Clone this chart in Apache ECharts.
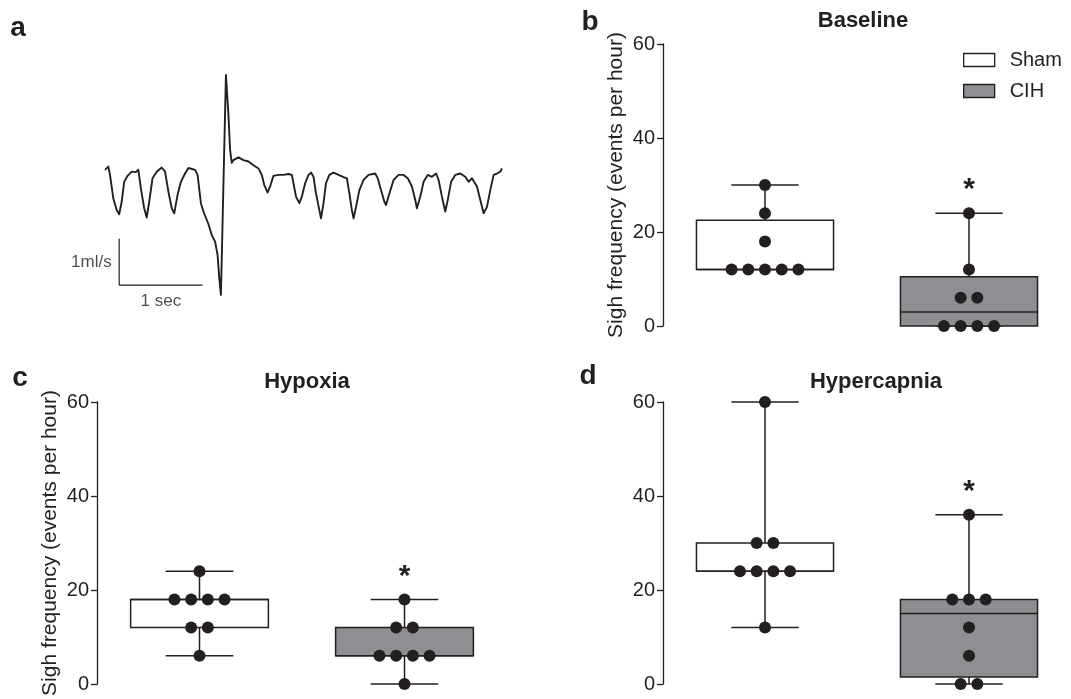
<!DOCTYPE html>
<html>
<head>
<meta charset="utf-8">
<script src="https://cdn.jsdelivr.net/npm/echarts@6/dist/echarts.min.js"></script>
<style>
html,body{margin:0;padding:0;background:#fff;}
#chart{width:1071px;height:699px;}
</style>
</head>
<body>
<div id="chart"></div>
<script>
// ---------- Data ----------
// Panel a: airflow trace (time in s, flow in ml/s)
const traceTime = [0.00,0.04,0.06,0.10,0.14,0.17,0.20,0.23,0.27,0.32,
  0.37,0.40,0.43,0.47,0.50,0.53,0.57,0.62,0.68,0.72,
  0.76,0.80,0.83,0.87,0.91,0.96,1.00,1.08,1.11,1.15,
  1.18,1.24,1.28,1.32,1.35,1.37,1.39,1.45,1.48,1.50,
  1.52,1.54,1.60,1.66,1.72,1.78,1.84,1.88,1.91,1.95,
  1.98,2.02,2.08,2.14,2.20,2.24,2.26,2.29,2.33,2.36,
  2.40,2.44,2.47,2.50,2.53,2.57,2.59,2.62,2.65,2.69,
  2.74,2.80,2.86,2.90,2.93,2.96,2.98,3.01,3.05,3.10,
  3.16,3.24,3.27,3.31,3.35,3.37,3.41,3.46,3.52,3.58,
  3.63,3.68,3.72,3.74,3.78,3.82,3.87,3.92,3.97,4.00,
  4.04,4.08,4.11,4.15,4.20,4.26,4.32,4.36,4.40,4.46,
  4.50,4.54,4.58,4.62,4.66,4.70,4.74,4.76];
const traceFlow = [0.22,0.29,0.11,-0.40,-0.65,-0.74,-0.47,-0.04,0.09,0.18,
  0.17,0.22,-0.18,-0.61,-0.81,-0.47,0.04,0.18,0.27,0.18,
  -0.25,-0.61,-0.72,-0.32,-0.04,0.14,0.26,0.22,0.11,-0.50,
  -0.68,-0.95,-1.19,-1.33,-1.62,-2.12,-2.48,2.27,1.40,0.65,
  0.37,0.43,0.49,0.43,0.40,0.32,0.25,0.11,-0.11,-0.27,
  -0.14,0.09,0.11,0.11,0.13,0.11,-0.07,-0.36,-0.50,-0.36,
  -0.07,0.11,0.16,0.07,-0.29,-0.65,-0.83,-0.50,-0.07,0.11,
  0.16,0.11,0.06,0.04,-0.29,-0.65,-0.83,-0.58,-0.22,0.00,
  0.11,0.14,0.04,-0.22,-0.47,-0.54,-0.29,0.00,0.11,0.11,
  0.04,-0.14,-0.43,-0.61,-0.36,-0.04,0.11,0.07,0.14,0.00,
  -0.36,-0.68,-0.43,-0.04,0.11,0.14,0.07,-0.04,0.04,-0.14,
  -0.43,-0.72,-0.58,-0.22,0.11,0.14,0.18,0.25];
// scale bar: origin (time, flow), 1 sec and 1 ml/s long
const scaleBarOrigin = [0.17, -2.27];
const scaleBarTime = 1;   // s
const scaleBarFlow = 1;   // ml/s

// Panels b-d: sigh frequency (events per hour)
const groups = ['Sham', 'CIH'];
const conditions = ['Baseline', 'Hypoxia', 'Hypercapnia'];
const shamBaseline = [30, 24, 18, 12, 12, 12, 12, 12];
const cihBaseline = [24, 12, 6, 6, 0, 0, 0, 0];
const shamHypoxia = [24, 18, 18, 18, 18, 12, 12, 6];
const cihHypoxia = [18, 12, 12, 6, 6, 6, 6, 0];
const shamHypercapnia = [60, 30, 30, 24, 24, 24, 24, 12];
const cihHypercapnia = [36, 18, 18, 18, 12, 6, 0, 0];
// box stats [min, Q1, median, Q3, max]
const shamBaselineBox = [12, 12, 12, 22.5, 30];
const cihBaselineBox = [0, 0, 3, 10.5, 24];
const shamHypoxiaBox = [6, 12, 18, 18, 24];
const cihHypoxiaBox = [0, 6, 6, 12, 18];
const shamHypercapniaBox = [12, 24, 24, 30, 60];
const cihHypercapniaBox = [0, 1.5, 15, 18, 36];
const significant = [true, true, true];
const yTicks = [0, 20, 40, 60];
const yAxisTitle = 'Sigh frequency (events per hour)';

// ---------- Styling ----------
const INK = '#231f20';
const GREY = '#8e8f92';
const FONT = "'Liberation Sans', Arial, Helvetica, sans-serif";
const DOT_STEP = 16.7;
const DOT_R = 6;

const shamVals = [shamBaseline, shamHypoxia, shamHypercapnia];
const cihVals = [cihBaseline, cihHypoxia, cihHypercapnia];
const shamBoxes = [shamBaselineBox, shamHypoxiaBox, shamHypercapniaBox];
const cihBoxes = [cihBaselineBox, cihHypoxiaBox, cihHypercapniaBox];

function boxItem(fill) {
  return function (params, api) {
    const g = api.value(0);
    const pMin = api.coord([g, api.value(1)]);
    const pQ1 = api.coord([g, api.value(2)]);
    const pMed = api.coord([g, api.value(3)]);
    const pQ3 = api.coord([g, api.value(4)]);
    const pMax = api.coord([g, api.value(5)]);
    const band = api.size([1, 0])[0];
    const bw = band * 0.672, cw = band * 0.33;
    const cx = pMed[0];
    const ls = { stroke: INK, lineWidth: 1.5, fill: null };
    const children = [];
    if (pMax[1] < pQ3[1]) children.push({ type: 'line', shape: { x1: cx, y1: pQ3[1], x2: cx, y2: pMax[1] }, style: ls });
    children.push({ type: 'line', shape: { x1: cx - cw / 2, y1: pMax[1], x2: cx + cw / 2, y2: pMax[1] }, style: ls });
    if (pMin[1] > pQ1[1]) children.push({ type: 'line', shape: { x1: cx, y1: pQ1[1], x2: cx, y2: pMin[1] }, style: ls });
    children.push({ type: 'line', shape: { x1: cx - cw / 2, y1: pMin[1], x2: cx + cw / 2, y2: pMin[1] }, style: ls });
    children.push({ type: 'rect', shape: { x: cx - bw / 2, y: pQ3[1], width: bw, height: pQ1[1] - pQ3[1] }, style: { fill: fill, stroke: INK, lineWidth: 1.5 } });
    children.push({ type: 'line', shape: { x1: cx - bw / 2, y1: pMed[1], x2: cx + bw / 2, y2: pMed[1] }, style: ls });
    return { type: 'group', children: children };
  };
}

function dotRows(values, g) {
  const counts = {}, seen = {};
  values.forEach(v => counts[v] = (counts[v] || 0) + 1);
  return values.map(v => {
    const i = (seen[v] = (seen[v] || 0) + 1) - 1;
    return [g, v, i - (counts[v] - 1) / 2];
  });
}

function dotItem(params, api) {
  const p = api.coord([api.value(0), api.value(1)]);
  return { type: 'circle', shape: { cx: p[0] + api.value(2) * DOT_STEP, cy: p[1], r: DOT_R }, style: { fill: INK } };
}

function starItem(params, api) {
  const p = api.coord([api.value(0), api.value(1)]);
  return { type: 'text', x: p[0], y: p[1] - 23,
    style: { text: '*', fill: INK, fontSize: 30, fontWeight: 'bold', fontFamily: FONT, align: 'center', verticalAlign: 'middle' } };
}

const gridsBox = [
  { left: 663, top: 44, width: 416, height: 282 },
  { left: 97, top: 402, width: 410, height: 282 },
  { left: 663, top: 402, width: 416, height: 282 }
];

const grid = [{ left: 105, top: 41.1, width: 417, height: 277.8 }].concat(gridsBox);
const xAxis = [{ gridIndex: 0, type: 'value', min: 0, max: 5, show: false }];
const yAxis = [{ gridIndex: 0, type: 'value', min: -3, max: 3, show: false }];
const series = [];

series.push({
  type: 'line', xAxisIndex: 0, yAxisIndex: 0, showSymbol: false, silent: true,
  data: traceTime.map((t, i) => [t, traceFlow[i]]),
  lineStyle: { color: INK, width: 1.9, join: 'round' }
});
series.push({
  type: 'line', xAxisIndex: 0, yAxisIndex: 0, showSymbol: false, silent: true,
  data: [[scaleBarOrigin[0], scaleBarOrigin[1] + scaleBarFlow], scaleBarOrigin, [scaleBarOrigin[0] + scaleBarTime, scaleBarOrigin[1]]],
  lineStyle: { color: INK, width: 1.2 }
});
series.push({
  type: 'scatter', xAxisIndex: 0, yAxisIndex: 0, symbolSize: 1, silent: true,
  itemStyle: { color: 'rgba(0,0,0,0)' },
  data: [
    { value: [scaleBarOrigin[0], scaleBarOrigin[1] + scaleBarFlow / 2], label: { show: true, position: 'left', distance: 7, formatter: '1ml/s' } },
    { value: [scaleBarOrigin[0] + scaleBarTime / 2, scaleBarOrigin[1]], label: { show: true, position: 'bottom', distance: 7, formatter: '1 sec' } }
  ],
  label: { color: INK, fontSize: 17, fontFamily: FONT }
});

for (let k = 0; k < 3; k++) {
  const idx = k + 1;
  xAxis.push({ gridIndex: idx, type: 'value', min: -0.5, max: 1.5, show: false });
  yAxis.push({
    gridIndex: idx, type: 'value', position: 'left', min: yTicks[0], max: yTicks[yTicks.length - 1], interval: yTicks[1] - yTicks[0],
    name: k === 2 ? '' : yAxisTitle, nameLocation: 'middle', nameGap: 36,
    nameTextStyle: { color: INK, fontSize: 21, fontFamily: FONT },
    axisLine: { show: true, onZero: false, lineStyle: { color: INK, width: 1.3 } },
    axisTick: { show: true, length: 6, lineStyle: { color: INK, width: 1.3 } },
    axisLabel: { color: INK, fontSize: 20, fontFamily: FONT, margin: 8 },
    splitLine: { show: false }
  });
  series.push({
    type: 'custom', name: groups[0], xAxisIndex: idx, yAxisIndex: idx, silent: true,
    renderItem: boxItem('#ffffff'), encode: { x: 0, y: [1, 2, 3, 4, 5] },
    itemStyle: { color: '#ffffff', borderColor: INK },
    data: [[0].concat(shamBoxes[k])]
  });
  series.push({
    type: 'custom', name: groups[1], xAxisIndex: idx, yAxisIndex: idx, silent: true,
    renderItem: boxItem(GREY), encode: { x: 0, y: [1, 2, 3, 4, 5] },
    itemStyle: { color: GREY, borderColor: INK },
    data: [[1].concat(cihBoxes[k])]
  });
  series.push({
    type: 'custom', name: 'points', xAxisIndex: idx, yAxisIndex: idx, silent: true,
    renderItem: dotItem, encode: { x: 0, y: 1 },
    data: dotRows(shamVals[k], 0).concat(dotRows(cihVals[k], 1))
  });
  if (significant[k]) {
    series.push({
      type: 'custom', name: 'sig', xAxisIndex: idx, yAxisIndex: idx, silent: true,
      renderItem: starItem, encode: { x: 0, y: 1 },
      data: [[1, cihBoxes[k][4]]]
    });
  }
}

function txt(s, x, y, size, bold) {
  return { type: 'text', x: x, y: y, silent: true,
    style: { text: s, fill: INK, fontSize: size, fontWeight: bold ? 'bold' : 'normal', fontFamily: FONT, align: 'center', verticalAlign: 'middle' } };
}

const option = {
  animation: false,
  backgroundColor: '#ffffff',
  grid: grid,
  xAxis: xAxis,
  yAxis: yAxis,
  legend: {
    orient: 'vertical', left: 963, top: 50, padding: 0,
    itemWidth: 31, itemHeight: 13, itemGap: 11, selectedMode: false,
    textStyle: { color: INK, fontSize: 20, fontFamily: FONT, padding: [0, 0, 0, 10] },
    data: [
      { name: groups[0], icon: 'rect', itemStyle: { color: '#ffffff', borderColor: INK, borderWidth: 1.3 } },
      { name: groups[1], icon: 'rect', itemStyle: { color: GREY, borderColor: INK, borderWidth: 1.3 } }
    ]
  },
  graphic: [
    txt('a', 18, 28, 28, true),
    txt('b', 590, 22, 28, true),
    txt('c', 20, 378, 28, true),
    txt('d', 588, 376, 28, true),
    txt(conditions[0], 863, 21, 22, true),
    txt(conditions[1], 307, 382, 22, true),
    txt(conditions[2], 876, 382, 22, true)
  ],
  series: series
};

const chart = echarts.init(document.getElementById('chart'), null, { renderer: 'canvas' });
chart.setOption(option);
</script>
</body>
</html>
